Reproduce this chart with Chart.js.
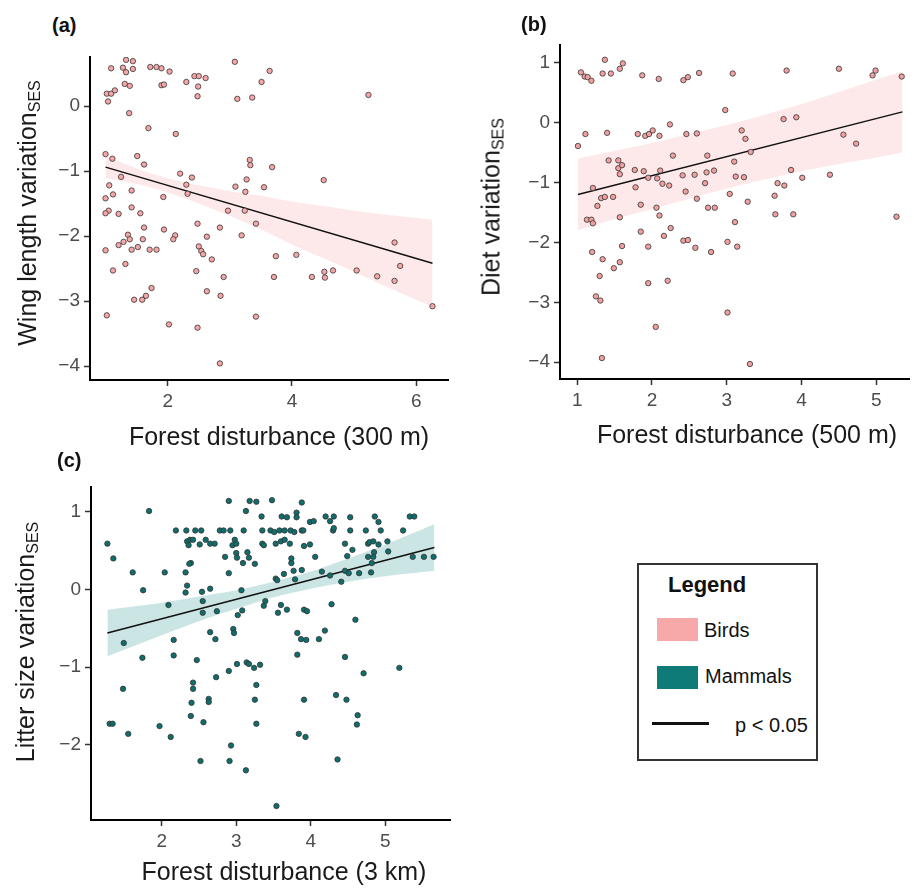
<!DOCTYPE html>
<html>
<head>
<meta charset="utf-8">
<script src="https://cdn.jsdelivr.net/npm/chart.js@4.4.1/dist/chart.umd.min.js"></script>
<style>
    body { margin: 0; background: #fff; }
    #page { position: relative; width: 914px; height: 891px; font-family: 'Liberation Sans', Arial, sans-serif; }
    canvas { position: absolute; }
    .panel-label { position: absolute; font-weight: bold; font-size: 20px; line-height: 1; color: #111; }
    .ytitle {
        position: absolute; white-space: nowrap; font-size: 25px; line-height: 1; color: #1a1a1a;
        transform: translate(-50%, -50%) rotate(-90deg);
    }
    .ytitle sub { font-size: 16px; vertical-align: -4px; line-height: 0; }
    .xtitle { position: absolute; white-space: nowrap; font-size: 25px; line-height: 1; color: #1a1a1a; transform: translateX(-50%); }
    #legend { position: absolute; left: 637px; top: 563px; width: 181px; height: 198px; box-sizing: border-box; border: 2px solid #333; }
    #legend div { position: absolute; line-height: 1; color: #111; }
</style>
</head>
<body>
<div id="page">
    <canvas id="chartA" width="470" height="420" style="left:0;top:40px"></canvas>
    <canvas id="chartB" width="444" height="430" style="left:470px;top:30px"></canvas>
    <canvas id="chartC" width="470" height="421" style="left:0;top:470px"></canvas>

    <div class="panel-label" style="left:52px;top:15px">(a)</div>
    <div class="panel-label" style="left:521px;top:14px">(b)</div>
    <div class="panel-label" style="left:57px;top:450px">(c)</div>

    <div class="ytitle" style="left:27px;top:213px">Wing length variation<sub>SES</sub></div>
    <div class="ytitle" style="left:491px;top:207px">Diet variation<sub>SES</sub></div>
    <div class="ytitle" style="left:25px;top:642px">Litter size variation<sub>SES</sub></div>

    <div class="xtitle" style="left:279px;top:424px">Forest disturbance (300 m)</div>
    <div class="xtitle" style="left:747px;top:422px">Forest disturbance (500 m)</div>
    <div class="xtitle" style="left:284px;top:859px">Forest disturbance (3 km)</div>

    <div id="legend">
        <div style="left:29px;top:9px;font-weight:bold;font-size:22px">Legend</div>
        <div style="left:18px;top:53px;width:41px;height:23px;background:#f7a8a8"></div>
        <div style="left:65px;top:55px;font-size:20px">Birds</div>
        <div style="left:18px;top:101px;width:41px;height:23px;background:#0e7b78"></div>
        <div style="left:66px;top:101px;font-size:20px">Mammals</div>
        <div style="left:13px;top:157px;width:57px;height:3px;background:#111"></div>
        <div style="left:96px;top:150px;font-size:20px">p &lt; 0.05</div>
    </div>
</div>

<script>
// (a) wing length vs forest disturbance (300 m) - birds
const wingBirds = [
    [1.33,0.71],[1.44,0.69],[1.09,0.58],[1.28,0.59],[1.33,0.52],[1.44,0.57],[1.72,0.60],[1.82,0.60],[1.90,0.58],[2.03,0.53],
    [3.08,0.68],[3.64,0.54],[1.31,0.34],[1.39,0.31],[1.90,0.32],[1.94,0.33],[2.30,0.37],[2.43,0.46],[2.50,0.46],[2.61,0.43],
    [2.49,0.30],[2.48,0.15],[3.12,0.11],[3.36,0.13],[3.51,0.37],[5.23,0.17],[1.02,0.19],[1.09,0.19],[1.15,0.24],[1.04,0.07],
    [1.38,-0.11],[1.69,-0.34],[2.13,-0.43],[1.00,-0.74],[1.11,-0.81],[1.51,-0.77],[1.62,-0.90],[1.25,-1.09],[2.20,-1.04],[2.39,-1.10],
    [2.30,-1.21],[2.32,-1.35],[1.93,-1.40],[1.06,-1.22],[1.12,-1.36],[1.00,-1.42],[1.42,-1.30],[1.42,-1.56],[1.56,-1.65],[1.05,-1.61],
    [1.00,-1.65],[1.21,-1.66],[3.32,-0.83],[3.33,-0.91],[3.68,-0.94],[3.27,-1.13],[3.09,-1.24],[3.25,-1.32],[3.55,-1.25],[4.51,-1.14],
    [2.97,-1.61],[3.24,-1.61],[2.48,-1.81],[2.84,-1.87],[3.42,-1.81],[3.19,-1.99],[2.63,-2.01],[1.62,-1.87],[1.94,-1.90],[2.12,-1.99],
    [2.09,-2.05],[1.36,-1.98],[1.39,-2.05],[1.60,-2.05],[1.29,-2.09],[1.21,-2.14],[1.52,-2.17],[1.42,-2.21],[1.71,-2.21],[1.82,-2.21],
    [1.00,-2.22],[2.50,-2.16],[2.54,-2.23],[2.57,-2.28],[2.71,-2.36],[1.32,-2.43],[1.12,-2.53],[2.46,-2.54],[2.90,-2.63],[3.74,-2.31],
    [4.07,-2.29],[3.71,-2.63],[4.32,-2.63],[4.52,-2.55],[4.53,-2.64],[4.66,-2.53],[5.04,-2.53],[5.37,-2.62],[5.65,-2.69],[5.65,-2.10],
    [5.74,-2.46],[6.26,-3.08],[1.74,-2.80],[1.65,-2.92],[1.59,-2.98],[1.46,-2.98],[2.63,-2.85],[2.85,-2.92],[1.02,-3.22],[2.02,-3.36],
    [2.48,-3.41],[3.42,-3.24],[2.84,-3.96]
];
const wingFitX = [1.0, 6.26];
const wingFitY = [-0.94, -2.42];
const wingBandX = [1.0, 1.5, 2, 2.5, 3, 3.5, 4, 4.5, 5, 5.5, 6.26];
const wingBandUpper = [-0.77, -0.96, -1.11, -1.22, -1.31, -1.38, -1.47, -1.54, -1.61, -1.67, -1.75];
const wingBandLower = [-1.11, -1.20, -1.33, -1.50, -1.69, -1.90, -2.13, -2.34, -2.55, -2.77, -3.09];
const wingTicksX = [2, 4, 6];
const wingTicksY = [0, -1, -2, -3, -4];

// (b) diet vs forest disturbance (500 m) - birds
const dietBirds = [
    [1.01,-0.39],[1.05,0.84],[1.10,0.77],[1.14,0.76],[1.19,0.70],[1.37,1.05],[1.34,0.82],[1.45,0.82],[1.57,0.90],[1.61,0.99],
    [1.87,0.79],[2.09,0.73],[2.42,0.71],[2.48,0.76],[2.63,0.83],[3.08,0.82],[3.80,0.87],[4.50,0.90],[4.95,0.79],[4.99,0.87],
    [5.34,0.77],[2.98,0.21],[3.76,0.06],[3.93,0.09],[1.11,-0.19],[1.40,-0.17],[1.81,-0.19],[1.91,-0.22],[1.96,-0.19],[2.01,-0.13],
    [2.10,-0.22],[2.24,-0.03],[2.46,-0.19],[2.60,-0.18],[3.20,-0.13],[3.25,-0.27],[4.56,-0.20],[4.73,-0.35],[3.32,-0.49],[2.28,-0.55],
    [2.74,-0.55],[1.42,-0.63],[1.55,-0.63],[1.55,-0.76],[1.60,-0.71],[1.57,-0.86],[1.77,-0.79],[1.89,-0.81],[2.11,-0.80],[1.95,-0.92],
    [2.07,-0.93],[2.14,-1.02],[2.23,-1.05],[2.41,-0.88],[2.57,-0.87],[2.73,-0.83],[2.83,-0.80],[2.71,-1.01],[3.10,-0.65],[3.12,-0.90],
    [3.23,-0.91],[3.86,-0.79],[4.01,-0.92],[4.38,-0.87],[3.68,-1.01],[3.77,-1.05],[1.21,-1.09],[1.78,-1.08],[2.45,-1.15],[1.32,-1.26],
    [1.37,-1.24],[1.48,-1.24],[1.27,-1.39],[1.85,-1.37],[2.06,-1.42],[2.60,-1.27],[2.75,-1.42],[2.84,-1.42],[3.04,-1.19],[3.28,-1.32],
    [3.64,-1.22],[1.13,-1.62],[1.19,-1.62],[1.21,-1.68],[1.57,-1.58],[2.10,-1.55],[3.11,-1.66],[3.65,-1.53],[3.89,-1.53],[5.27,-1.57],
    [1.85,-1.82],[2.25,-1.76],[2.16,-1.89],[2.42,-1.97],[2.48,-1.96],[1.60,-2.06],[1.95,-2.07],[2.58,-2.09],[2.79,-2.16],[3.01,-1.99],
    [3.14,-2.07],[1.20,-2.16],[1.34,-2.28],[1.57,-2.33],[1.49,-2.43],[1.30,-2.56],[2.21,-2.64],[1.95,-2.68],[1.25,-2.90],[1.31,-2.97],
    [3.01,-3.17],[2.05,-3.41],[1.33,-3.93],[3.31,-4.03]
];
const dietFitX = [1.01, 5.35];
const dietFitY = [-1.20, 0.18];
const dietBandX = [1.01, 1.5, 2, 2.5, 3, 3.5, 4, 4.5, 5, 5.35];
const dietBandUpper = [-0.60, -0.47, -0.34, -0.19, -0.04, 0.13, 0.31, 0.51, 0.72, 0.86];
const dietBandLower = [-1.80, -1.61, -1.44, -1.27, -1.10, -0.95, -0.81, -0.69, -0.58, -0.50];
const dietTicksX = [1, 2, 3, 4, 5];
const dietTicksY = [1, 0, -1, -2, -3, -4];

// (c) litter size vs forest disturbance (3 km) - mammals
const litterMammals = [
    [2.90,1.14],[3.18,1.14],[3.27,1.13],[3.48,1.15],[3.88,1.12],[1.83,1.01],[3.13,1.01],[3.34,0.94],[3.61,0.94],[3.68,0.93],
    [3.81,0.99],[3.81,0.93],[3.99,0.87],[4.04,0.88],[4.20,0.94],[4.26,0.88],[4.31,0.94],[4.53,0.93],[4.86,0.94],[4.91,0.87],
    [5.33,0.94],[5.39,0.94],
    [2.19,0.76],[2.33,0.76],[2.45,0.76],[2.53,0.76],[2.78,0.76],[2.83,0.76],[2.92,0.76],[3.10,0.76],[3.35,0.76],[3.46,0.76],
    [3.51,0.74],[3.58,0.76],[3.65,0.76],[3.73,0.76],[3.78,0.74],[3.88,0.76],[3.90,0.76],[4.30,0.76],[4.31,0.79],[4.53,0.76],
    [4.74,0.76],[4.94,0.76],[5.24,0.76],
    [1.27,0.59],[2.34,0.62],[2.36,0.57],[2.38,0.64],[2.42,0.64],[2.51,0.58],[2.59,0.64],[2.65,0.59],[2.71,0.59],[2.95,0.57],
    [2.98,0.64],[3.00,0.59],[3.35,0.59],[3.37,0.57],[3.53,0.59],[3.60,0.62],[3.65,0.64],[3.72,0.59],[3.91,0.56],[3.99,0.58],
    [4.46,0.59],[4.77,0.59],[4.79,0.61],[4.84,0.62],[4.91,0.58],[5.03,0.62],
    [1.35,0.40],[2.85,0.42],[3.00,0.47],[3.01,0.41],[3.15,0.48],[3.17,0.41],[3.09,0.34],[3.25,0.33],[3.74,0.40],[3.74,0.34],
    [4.06,0.42],[4.49,0.43],[4.56,0.51],[4.77,0.42],[4.82,0.34],[4.84,0.42],[4.85,0.48],[5.04,0.49],[5.37,0.42],[5.52,0.42],
    [5.65,0.42],[2.39,0.34],[2.37,0.33],
    [1.61,0.22],[2.04,0.22],[2.32,0.22],[2.90,0.21],[3.64,0.20],[3.77,0.24],[3.88,0.25],[4.15,0.23],[4.26,0.18],[4.46,0.24],
    [4.51,0.21],[4.65,0.21],[4.81,0.22],[4.41,0.10],[3.53,0.14],[3.55,0.12],[3.79,0.13],
    [1.75,-0.01],[2.34,0.05],[2.32,-0.04],[2.54,-0.03],[2.65,0.01],[3.07,-0.01],
    [2.09,-0.20],[2.55,-0.15],[2.55,-0.30],[2.74,-0.28],[3.02,-0.33],[3.08,-0.27],[3.37,-0.21],[3.39,-0.15],[3.60,-0.20],[3.68,-0.26],
    [3.56,-0.30],[3.91,-0.26],[3.95,-0.28],[4.28,-0.19],
    [4.60,-0.39],[2.65,-0.55],[2.72,-0.64],[2.96,-0.51],[2.97,-0.56],[3.82,-0.56],[3.87,-0.64],[3.94,-0.65],[4.11,-0.64],[4.19,-0.53],
    [1.49,-0.69],[2.16,-0.65],
    [2.16,-0.85],[3.82,-0.84],[1.74,-0.88],[2.47,-0.91],[3.01,-0.96],[3.14,-0.94],[3.17,-0.96],[3.24,-1.01],[3.32,-0.97],[4.46,-0.87],
    [2.90,-1.05],[4.71,-1.08],[5.19,-1.01],
    [2.42,-1.20],[2.42,-1.28],[1.48,-1.28],[2.73,-1.13],[3.27,-1.23],[2.63,-1.41],[2.63,-1.45],[2.40,-1.46],[3.25,-1.42],[3.91,-1.42],
    [4.34,-1.36],[4.48,-1.42],
    [2.39,-1.63],[2.56,-1.71],[1.30,-1.73],[1.34,-1.73],[1.55,-1.86],[1.97,-1.76],[2.12,-1.90],[3.27,-1.73],[3.84,-1.86],[3.93,-1.90],
    [4.63,-1.62],[4.62,-1.74],
    [2.93,-2.01],[2.52,-2.21],[2.91,-2.21],[3.13,-2.33],[4.36,-2.19],[3.54,-2.79]
];
const litterFitX = [1.27, 5.66];
const litterFitY = [-0.56, 0.54];
const litterBandX = [1.27, 2, 2.5, 3, 3.5, 4, 4.5, 5, 5.66];
const litterBandUpper = [-0.26, -0.17, -0.09, -0.01, 0.10, 0.23, 0.40, 0.58, 0.84];
const litterBandLower = [-0.86, -0.59, -0.41, -0.25, -0.10, 0.01, 0.10, 0.17, 0.24];
const litterTicksX = [2, 3, 4, 5];
const litterTicksY = [1, 0, -1, -2];

const FONT = "'Liberation Sans', Arial, sans-serif";

function toXY(xs, ys) {
    return xs.map((x, i) => ({ x: x, y: ys[i] }));
}

function axis(opts) {
    const isX = opts.axis === 'x';
    return {
        type: 'linear',
        position: isX ? 'bottom' : 'left',
        min: opts.min,
        max: opts.max,
        afterBuildTicks: (scale) => {
            scale.ticks = opts.ticks.map(v => ({ value: v }));
        },
        afterFit: (scale) => {
            if (isX) scale.height = opts.size;
            else scale.width = opts.size;
        },
        border: { display: true, color: '#000', width: 2 },
        grid: { display: true, drawOnChartArea: false, drawTicks: true, tickLength: 6, tickWidth: 1.5, tickColor: '#333' },
        ticks: {
            color: '#4d4d4d',
            padding: 4,
            font: { family: FONT, size: 19 },
            callback: (v) => String(v).replace('-', '\u2212')
        }
    };
}

function drawPanel(id, cfg) {
    const ctx = document.getElementById(id).getContext('2d');
    new Chart(ctx, {
        type: 'scatter',
        data: {
            datasets: [
                {
                    data: cfg.points.map(p => ({ x: p[0], y: p[1] })),
                    pointRadius: 2.7,
                    pointBackgroundColor: cfg.pointColor,
                    pointBorderColor: '#333',
                    pointBorderWidth: 0.8
                },
                {
                    type: 'line',
                    data: toXY(cfg.fitX, cfg.fitY),
                    borderColor: '#111',
                    borderWidth: 1.5,
                    pointRadius: 0,
                    fill: false
                },
                {
                    type: 'line',
                    data: toXY(cfg.bandX, cfg.bandUpper),
                    borderWidth: 0,
                    pointRadius: 0,
                    tension: 0.3,
                    backgroundColor: cfg.bandColor,
                    fill: '+1'
                },
                {
                    type: 'line',
                    data: toXY(cfg.bandX, cfg.bandLower),
                    borderWidth: 0,
                    pointRadius: 0,
                    tension: 0.3,
                    fill: false
                }
            ]
        },
        options: {
            responsive: false,
            animation: false,
            layout: { padding: cfg.padding },
            plugins: { legend: { display: false }, tooltip: { enabled: false } },
            scales: {
                x: axis({ axis: 'x', min: cfg.xMin, max: cfg.xMax, ticks: cfg.ticksX, size: cfg.xSize }),
                y: axis({ axis: 'y', min: cfg.yMin, max: cfg.yMax, ticks: cfg.ticksY, size: cfg.ySize })
            }
        }
    });
}

window.onload = function() {
    drawPanel('chartA', {
        points: wingBirds, pointColor: '#f6a6a6', bandColor: 'rgba(251, 218, 218, 0.6)',
        fitX: wingFitX, fitY: wingFitY, bandX: wingBandX, bandUpper: wingBandUpper, bandLower: wingBandLower,
        xMin: 0.75, xMax: 6.51, yMin: -4.215, yMax: 0.754, ticksX: wingTicksX, ticksY: wingTicksY,
        xSize: 70, ySize: 90,
        padding: { left: 0, top: 17, right: 22, bottom: 10 }
    });
    drawPanel('chartB', {
        points: dietBirds, pointColor: '#f0a0a0', bandColor: 'rgba(251, 218, 218, 0.6)',
        fitX: dietFitX, fitY: dietFitY, bandX: dietBandX, bandUpper: dietBandUpper, bandLower: dietBandLower,
        xMin: 0.77, xMax: 5.44, yMin: -4.28, yMax: 1.29, ticksX: dietTicksX, ticksY: dietTicksY,
        xSize: 70, ySize: 90,
        padding: { left: 0, top: 13, right: 4, bottom: 11 }
    });
    drawPanel('chartC', {
        points: litterMammals, pointColor: '#0f6e6c', bandColor: 'rgba(160, 208, 205, 0.55)',
        fitX: litterFitX, fitY: litterFitY, bandX: litterBandX, bandUpper: litterBandUpper, bandLower: litterBandLower,
        xMin: 1.05, xMax: 5.87, yMin: -2.97, yMax: 1.32, ticksX: litterTicksX, ticksY: litterTicksY,
        xSize: 66, ySize: 91,
        padding: { left: 0, top: 17, right: 20, bottom: 5 }
    });
};
</script>
</body>
</html>
